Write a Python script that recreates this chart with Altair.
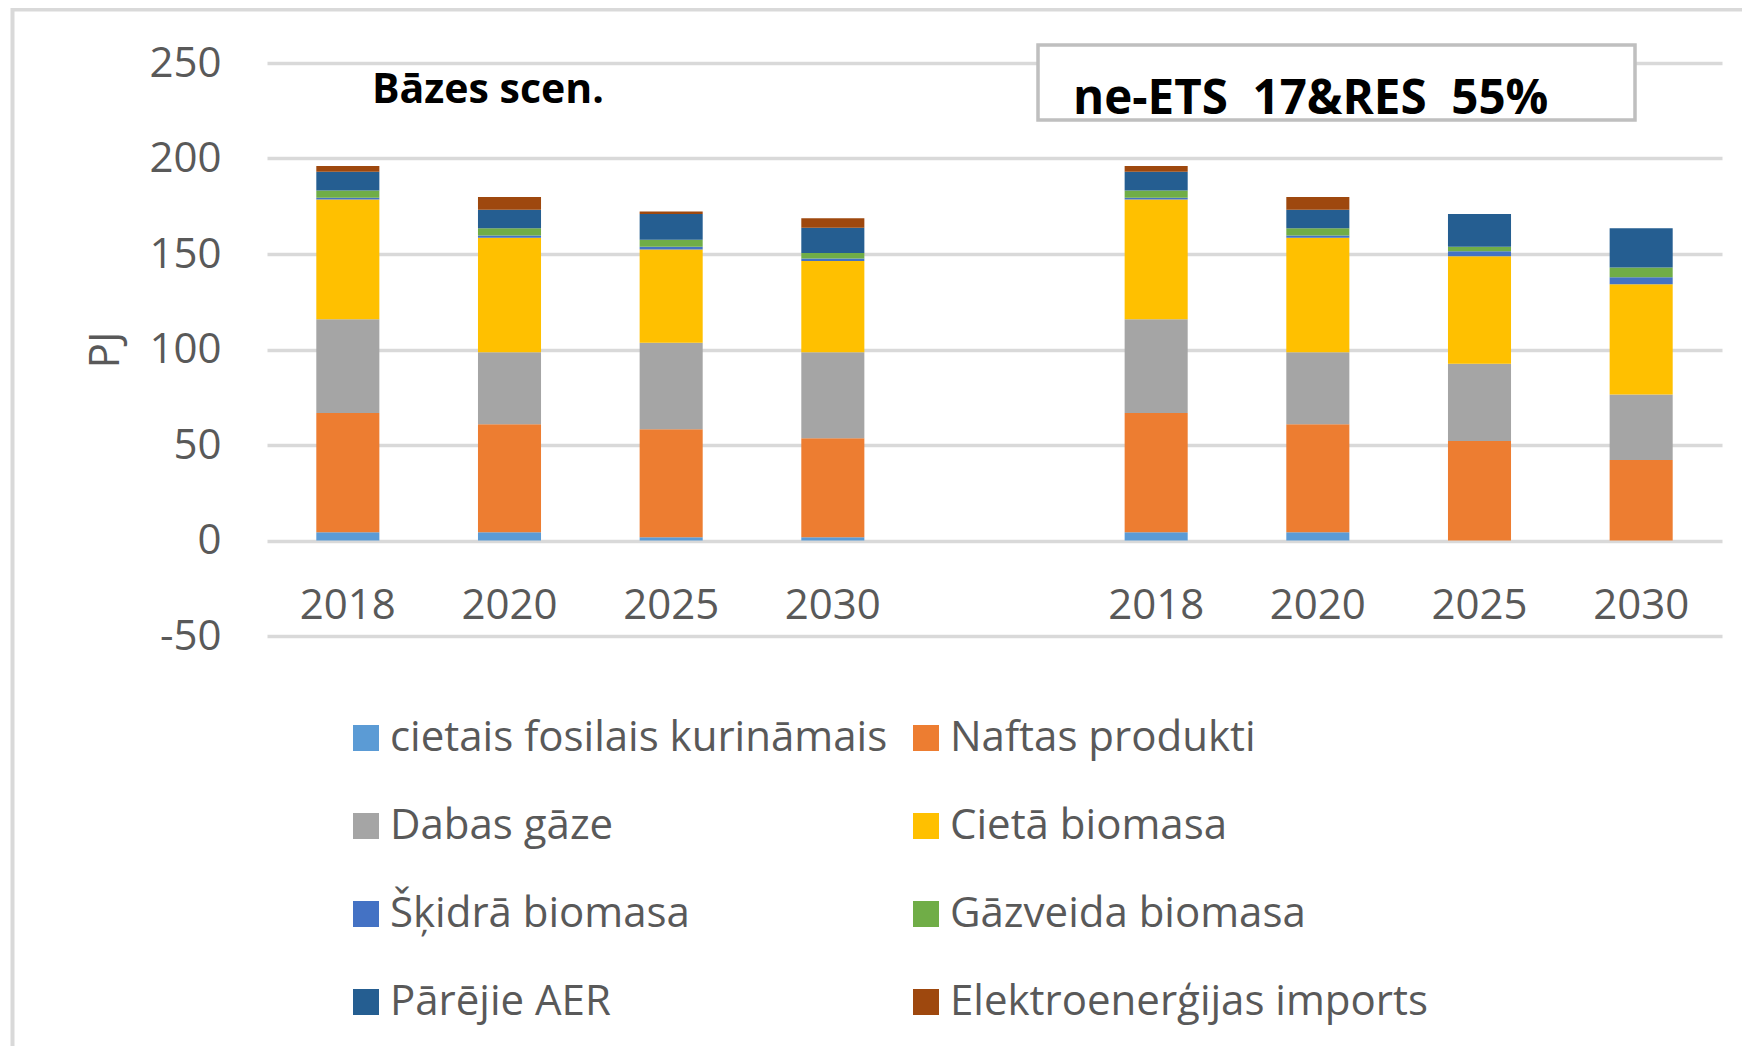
import altair as alt
import pandas as pd

years = ["2018", "2020", "2025", "2030"]
scenario_keys = ["bazes", "neets"]
scenario_titles = ["Bāzes scen.", "ne-ETS\u00a0 17&RES\u00a0 55%"]

series = [
    "cietais fosilais kurināmais",
    "Naftas produkti",
    "Dabas gāze",
    "Cietā biomasa",
    "Šķidrā biomasa",
    "Gāzveida biomasa",
    "Pārējie AER",
    "Elektroenerģijas imports",
]
colors = ["#5B9BD5", "#ED7D31", "#A5A5A5", "#FFC000", "#4472C4", "#70AD47", "#255E91", "#9E480E"]

# values: 4 years of the base scenario, then 4 years of ne-ETS 17&RES 55%
cietais = [4.3, 4.3, 1.7, 1.7, 4.3, 4.3, 0.0, 0.0]
naftas = [62.5, 56.5, 56.6, 51.8, 62.5, 56.5, 52.1, 42.2]
gaze = [49.0, 37.8, 45.2, 45.1, 49.0, 37.8, 40.4, 34.2]
cieta_bio = [62.7, 59.9, 48.9, 47.8, 62.7, 59.9, 56.3, 57.8]
skidra_bio = [1.0, 1.2, 1.4, 1.3, 1.0, 1.2, 2.6, 3.6]
gazveida_bio = [3.7, 3.8, 3.6, 2.8, 3.7, 3.8, 2.4, 5.1]
parejie = [9.9, 9.7, 13.5, 13.2, 9.9, 9.7, 17.2, 20.6]
elektro = [3.0, 6.6, 1.4, 5.0, 3.0, 6.6, 0.0, 0.0]
series_values = [cietais, naftas, gaze, cieta_bio, skidra_bio, gazveida_bio, parejie, elektro]

slots = [f"{scenario_keys[0]} {y}" for y in years] + ["gap"] + [f"{scenario_keys[1]} {y}" for y in years]

rows = []
for k, (name, vals) in enumerate(zip(series, series_values)):
    for i, v in enumerate(vals):
        sc = scenario_keys[i // 4]
        yr = years[i % 4]
        rows.append({"slot": f"{sc} {yr}", "year": yr, "series": name, "value": v, "idx": k})
df = pd.DataFrame(rows)

lab_df = pd.DataFrame([{"slot": f"{sc} {y}", "year": y} for sc in scenario_keys for y in years])
one = pd.DataFrame({"a": [0]})

FONT = "Open Sans"
GRAY = "#595959"

x_enc = alt.X("slot:N", scale=alt.Scale(domain=slots, paddingInner=0.61, paddingOuter=0.305), axis=None)

border = alt.Chart(one).mark_rect(filled=False, stroke="#d9d9d9", strokeWidth=4).encode(
    x=alt.value(-254.5), x2=alt.value(1800), y=alt.value(-53.5), y2=alt.value(1500)
)

bars = alt.Chart(df).mark_bar().encode(
    x=x_enc,
    y=alt.Y(
        "value:Q",
        stack="zero",
        scale=alt.Scale(domain=[-50, 250], nice=False, zero=False),
        axis=alt.Axis(
            values=[-50, 0, 50, 100, 150, 200, 250],
            labelExpr="'' + datum.value",
            title="PJ",
            grid=True,
            gridColor="#d9d9d9",
            gridWidth=3.5,
            domain=False,
            ticks=False,
            tickSize=0,
            labelPadding=46,
            labelFont=FONT,
            labelFontSize=42,
            labelColor=GRAY,
            titleFont=FONT,
            titleFontSize=42,
            titleFontWeight="normal",
            titleColor=GRAY,
            titleX=-162,
            titleY=286.5,
            titleAngle=270,
            titleAlign="center",
            titleBaseline="middle",
        ),
    ),
    color=alt.Color(
        "series:N",
        scale=alt.Scale(domain=series, range=colors),
        legend=alt.Legend(
            title=None,
            orient="none",
            direction="horizontal",
            legendX=78,
            legendY=654,
            columns=2,
            symbolType="square",
            symbolSize=676,
            symbolStrokeWidth=0,
            labelFont=FONT,
            labelFontSize=42,
            labelColor=GRAY,
            labelOffset=3,
            columnPadding=17,
            rowPadding=46,
            labelLimit=0,
            padding=0,
        ),
    ),
    order=alt.Order("idx:Q", sort="ascending"),
)

xlabels = alt.Chart(lab_df).mark_text(font=FONT, fontSize=42, color=GRAY, baseline="middle").encode(
    x=x_enc, y=alt.datum(-34.3), text="year:N"
)

box = alt.Chart(one).mark_rect(fill="white", stroke="#bfbfbf", strokeWidth=3.5).encode(
    x=alt.value(771), x2=alt.value(1368), y=alt.value(-18), y2=alt.value(57)
)

title_left = alt.Chart(one).mark_text(
    font=FONT, fontSize=41, fontWeight="bold", color="black", align="left", baseline="alphabetic"
).encode(x=alt.value(105), y=alt.value(40), text=alt.value(scenario_titles[0]))

title_right = alt.Chart(one).mark_text(
    font=FONT, fontSize=47.5, fontWeight="bold", color="black", align="left", baseline="alphabetic"
).encode(x=alt.value(806), y=alt.value(51), text=alt.value(scenario_titles[1]))

chart = (
    alt.layer(border, bars, xlabels, box, title_left, title_right)
    .properties(
        width=1455,
        height=573,
        autosize=alt.AutoSizeParams(type="none"),
        padding={"left": 259, "top": 55, "right": 20, "bottom": 410},
        background="white",
    )
    .configure_view(strokeWidth=0)
)

chart.save("out.html", embed_options={"renderer": "svg", "actions": False})
